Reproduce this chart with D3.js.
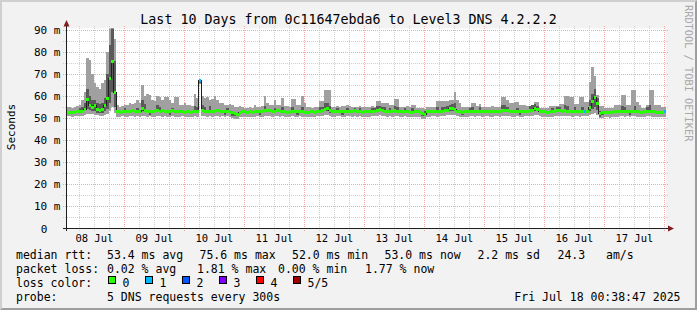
<!DOCTYPE html>
<html>
<head>
<meta charset="utf-8">
<script src="https://cdn.jsdelivr.net/npm/d3@7"></script>
<style>
body { margin: 0; background: #f2f2f2; }
text { font-family: "DejaVu Sans Mono", monospace; fill: #000; white-space: pre; }
</style>
</head>
<body>
<div id="chart"></div>
<script>
// time range: last 10 days, one smoke column per hour
var endTime = Date.UTC(2025, 6, 18, 0, 38, 47)
var startTime = endTime - 10 * 24 * 3600e3

var dayLabels = ["08 Jul", "09 Jul", "10 Jul", "11 Jul", "12 Jul", "13 Jul", "14 Jul", "15 Jul", "16 Jul", "17 Jul"]
var yTicks = [0, 10, 20, 30, 40, 50, 60, 70, 80, 90]

// hourly ping values in ms (sorted pings: 1 = fastest, 5 = slowest)
var ping1 = [
  51, 51, 50.5, 51, 51, 51, 51, 51.5, 52, 52, 52, 51.5, 51.5, 51, 51, 51.5, 52, 53, 55, 52.5, 50.5, 50.5, 51, 50.5,
  50.5, 50.8, 51, 50.5, 50.8, 50.5, 51, 51, 50.5, 50.8, 50.5, 50.5, 51, 50.8, 50.5, 50.8, 50.5, 50.5, 50.8, 50.5, 50.5, 50.5, 50.8, 50.5,
  50.5, 50.3, 50.5, 50.8, 50.5, 65.5, 51, 50.8, 50.5, 50.8, 50.5, 50.8, 50.8, 50.5, 50.8, 50.5, 50.8, 50.3, 50, 49.5, 49.5, 50.3, 50.5, 50.5,
  50.3, 50.5, 50.3, 50.5, 50.8, 50.5, 50.5, 51, 51, 50.8, 50.5, 50.8, 50.8, 50.5, 50.8, 50.5, 50.3, 50.5, 50.8, 50.5, 50.5, 50.8, 50.5, 50.3,
  50.3, 50.5, 50.5, 50.3, 50.8, 50.8, 51, 51.5, 51.5, 51, 50.5, 50.5, 50.8, 50.8, 50.5, 50.5, 50.8, 50.8, 50.5, 51, 50.5, 50.8, 50.3, 50.5,
  50.5, 50.5, 50.8, 50.8, 51, 51.2, 51, 50.8, 50.5, 50.8, 50.5, 51, 50.8, 50.5, 50.5, 50.8, 50.5, 50.3, 50.3, 50.5, 50.5, 50.3, 49.5, 49.5,
  50.5, 50.5, 50.8, 50.8, 50.5, 50.8, 50.8, 51, 51.2, 51.5, 51.5, 51.5, 50.8, 50.5, 50.3, 50.5, 50.5, 50.8, 50.8, 50.5, 50.8, 50.8, 50.5, 50.8,
  50.8, 50.5, 50.5, 50.8, 50.8, 50.5, 51, 51, 51, 50.8, 50.5, 50.5, 50.8, 50.5, 50.5, 50.8, 50.8, 51, 51, 51.5, 51.5, 50.8, 50.5, 50.5,
  50.3, 50.5, 50.5, 50.8, 51, 51, 50.8, 51, 50.8, 50.8, 50.5, 50.8, 50.8, 50.5, 50.8, 50.8, 50.8, 51.5, 52, 52.5, 51.5, 49.8, 49.8, 50.3,
  50.3, 50, 50.3, 50.5, 50.5, 50.8, 50.8, 50.5, 50.8, 50.5, 50.8, 50.8, 50.5, 50.3, 50.3, 50.5, 50.8, 50.8, 50.5, 50.5, 50.3, 50.3, 50.3, 50.5
]
var ping2 = [
  51.8, 51.8, 51.7, 51.9, 52.2, 52.3, 52.3, 53, 54, 53.5, 53, 53, 52.5, 52.5, 52.5, 53, 54, 57, 62, 55, 52.2, 51.9, 52.2, 52.2,
  52.4, 52.2, 52.6, 52.4, 52.2, 52.4, 53, 52.9, 52.4, 51.5, 52.4, 52.2, 52.9, 52.4, 52.6, 52.4, 52.2, 51.5, 52.6, 52.2, 52.4, 52.2, 52.2, 51.9,
  52.2, 51.9, 52.2, 52.4, 52.2, 66, 52.9, 52.4, 52.2, 52.4, 52.2, 52.4, 52.6, 52.2, 52.4, 51.5, 52.4, 51.9, 51, 51, 51, 51.9, 52.2, 52.2,
  51.9, 52.2, 51.9, 52.2, 52.4, 51.5, 52.2, 52.9, 52.9, 52.6, 52.2, 52.4, 52.6, 52.2, 52.4, 52.2, 51.9, 52.2, 52.4, 52.2, 51.5, 52.4, 52.2, 51.9,
  51.9, 52.2, 52.2, 51.9, 52.4, 52.4, 52.6, 53, 53, 52.5, 52.2, 52.2, 52.4, 52.4, 51.5, 52.2, 52.4, 52.4, 52.2, 52.6, 52.2, 52.4, 51.9, 52.2,
  52.2, 52.2, 52.4, 52.4, 52.9, 53.2, 52.9, 52.4, 52.2, 52.4, 52.2, 52.6, 52.4, 52.2, 52.2, 52.4, 52.2, 51.9, 51.9, 52.2, 52.2, 51.9, 51, 50.8,
  52.2, 52.2, 52.4, 52.4, 52.2, 52.4, 52.4, 52.6, 52.9, 53, 53.2, 53, 52.4, 52.2, 51.5, 52.2, 52.2, 52.4, 52.4, 52.2, 52.4, 52.4, 52.2, 52.4,
  52.4, 52.2, 52.2, 52.4, 52.4, 52.2, 52.9, 52.9, 52.6, 52.4, 52.2, 52.2, 52.4, 51.5, 52.2, 52.4, 52.4, 52.6, 52.9, 53, 53, 52.4, 52.2, 52.2,
  51.9, 52.2, 52.2, 52.4, 52.6, 52.6, 52.4, 52.6, 52.4, 52.4, 52.2, 52.4, 52.4, 52.2, 52.4, 52.4, 52.4, 53, 54, 55, 53.5, 50.5, 51.3, 51.9,
  51.9, 51.7, 51.9, 52.2, 52.2, 52.4, 52.4, 52.2, 52.4, 51.5, 52.4, 52.4, 52.2, 51.9, 51.9, 52.2, 52.4, 52.4, 52.2, 52.2, 51.9, 51.9, 51.9, 52.2
]
var median = [
  52.5, 52.5, 52.3, 52.5, 52.8, 53, 53, 54, 58.5, 55.5, 55, 55.5, 54, 53.5, 54, 55.5, 59, 68, 75.5, 61.5, 52.8, 52.5, 52.8, 52.8,
  53, 52.8, 53.2, 53, 52.8, 53, 54.5, 53.5, 53, 52.8, 53, 52.8, 53.5, 53, 53.2, 53, 52.8, 53, 53.2, 52.8, 53, 52.8, 52.8, 52.5,
  52.8, 52.5, 52.8, 53, 52.8, 66.8, 53.5, 53, 52.8, 53, 52.8, 53, 53.2, 52.8, 53, 52.8, 53, 52.5, 52.5, 52, 51.8, 52.5, 52.8, 52.8,
  52.5, 52.8, 52.5, 52.8, 53, 52.8, 52.8, 53.5, 53.5, 53.2, 52.8, 53, 53.2, 52.8, 53, 52.8, 52.5, 52.8, 53, 52.8, 52.8, 53, 52.8, 52.5,
  52.5, 52.8, 52.8, 52.5, 53, 53, 53.2, 54, 54.3, 53.5, 52.8, 52.8, 53, 53, 52.8, 52.8, 53, 53, 52.8, 53.2, 52.8, 53, 52.5, 52.8,
  52.8, 52.8, 53, 53, 53.5, 53.8, 53.5, 53, 52.8, 53, 52.8, 53.2, 53, 52.8, 52.8, 53, 52.8, 52.5, 52.5, 52.8, 52.8, 52.5, 52, 51.8,
  52.8, 52.8, 53, 53, 52.8, 53, 53, 53.2, 53.5, 54.3, 54.5, 54, 53, 52.8, 52.5, 52.8, 52.8, 53, 53, 52.8, 53, 53, 52.8, 53,
  53, 52.8, 52.8, 53, 53, 52.8, 53.5, 53.5, 53.2, 53, 52.8, 52.8, 53, 52.8, 52.8, 53, 53, 53.2, 53.5, 54.3, 54, 53, 52.8, 52.8,
  52.5, 52.8, 52.8, 53, 53.2, 53.2, 53, 53.2, 53, 53, 52.8, 53, 53, 52.8, 53, 53, 53, 55, 57.3, 59.3, 56.6, 52, 52.3, 52.5,
  52.5, 52.3, 52.5, 52.8, 52.8, 53, 53, 52.8, 53, 52.8, 53, 53, 52.8, 52.5, 52.5, 52.8, 53, 53, 52.8, 52.8, 52.5, 52.5, 52.5, 52.8
]
var ping4 = [
  53.2, 53.2, 53, 53.2, 53.5, 54.5, 55, 57, 63, 60, 58, 58, 57, 56.5, 57, 59, 70, 83, 91, 76, 53.5, 53.2, 53.5, 54.5,
  53.6, 53.4, 53.8, 53.6, 54.5, 53.6, 58, 56.5, 53.6, 53.4, 53.6, 53.4, 56, 55, 53.8, 53.6, 53.4, 53.6, 54.5, 53.4, 53.6, 53.4, 53.4, 53.1,
  53.4, 53.1, 53.4, 55.5, 55, 67.5, 56, 55, 53.4, 55.5, 53.4, 53.6, 53.8, 53.4, 53.6, 53.4, 54.5, 53.1, 53.1, 52.6, 52.4, 53.1, 53.4, 53.4,
  53.1, 53.4, 53.1, 53.4, 53.6, 53.4, 53.4, 55.5, 54.1, 53.8, 53.4, 54.5, 53.8, 53.4, 55, 53.4, 53.1, 53.4, 55, 53.4, 53.4, 53.6, 55, 53.1,
  53.1, 53.4, 53.4, 53.1, 53.6, 55, 55, 57, 57, 55.5, 53.4, 53.4, 54.5, 53.6, 53.4, 53.4, 54.5, 53.6, 53.4, 54.5, 53.4, 54.5, 53.1, 53.4,
  53.4, 53.4, 54.5, 54.5, 55.5, 55.5, 55, 55, 53.4, 54.5, 53.4, 55.5, 55, 53.4, 53.4, 54.5, 53.4, 53.1, 54.5, 53.4, 53.4, 53.1, 52.6, 53.2,
  53.4, 53.4, 53.6, 53.6, 55, 53.6, 55, 55, 55.5, 56, 56.5, 57, 53.6, 53.4, 53.1, 53.4, 53.4, 54.5, 55, 53.4, 53.6, 55, 53.4, 53.6,
  53.6, 53.4, 53.4, 53.6, 53.6, 53.4, 56, 56, 55, 53.6, 53.4, 53.4, 54.5, 53.4, 53.4, 53.6, 53.6, 55.5, 56, 56.5, 55.5, 53.6, 53.4, 53.4,
  53.1, 53.4, 54.5, 53.6, 55, 55, 53.6, 56, 55.5, 53.6, 53.4, 55, 53.6, 53.4, 55, 53.6, 53.6, 58, 61, 63, 59, 53, 53, 53.1,
  53.1, 52.9, 53.1, 53.4, 53.4, 53.6, 55.5, 55, 53.6, 53.4, 53.6, 55.5, 53.4, 53.1, 53.1, 53.4, 55, 56, 53.4, 53.4, 53.1, 53.1, 53.1, 53.4
]
var ping5 = [
  55, 55, 54.5, 55, 55.5, 56, 58, 62, 77, 76.5, 70, 66, 64, 63, 66, 67, 80, 95, 95, 86, 56, 55, 55.5, 56,
  56, 57, 56.5, 57, 58, 57, 65, 60, 61, 60.5, 58, 57.5, 60, 59.5, 58, 59.5, 59.5, 58, 57, 59.5, 59.5, 56, 56, 57,
  56, 56, 55.5, 61, 59, 67.5, 60, 59, 59.5, 58, 58.5, 60, 58, 57, 56.8, 56, 56, 56.5, 56, 55, 55, 55.5, 55, 54.5,
  54.5, 55, 54.5, 56, 55, 55, 55.5, 60, 57, 56, 56, 58, 56, 56, 59, 55.5, 55.5, 55, 58.5, 58.5, 56, 56, 60, 57,
  55, 55, 54.5, 55, 55, 57.5, 57.5, 62.5, 62.5, 62.5, 55, 55, 55.5, 55, 55.5, 55.5, 56, 55.5, 55, 55, 55, 55.5, 55, 55,
  55, 55, 55.5, 55, 57.8, 57.8, 57, 57, 57, 56, 56, 58.5, 58.5, 55, 55, 55, 55.5, 55, 56, 56, 54.5, 54.5, 54.5, 54,
  55, 55, 55, 55, 57.5, 57.5, 57.5, 57.5, 57.5, 58, 58, 61.8, 58, 57, 55, 55, 55, 55, 57, 57, 55.5, 56.5, 55, 55,
  55, 55, 55.5, 55, 55, 55, 59.6, 59.6, 58, 57, 57, 57.3, 57.3, 55.8, 55.8, 55.8, 55.5, 55.5, 55.5, 57.3, 57.3, 54.5, 54.5, 54.5,
  54.5, 55.5, 55.5, 55.5, 55.5, 56.5, 56.5, 59.9, 59.9, 59.5, 59.5, 56.5, 56.5, 59.5, 59.5, 57.3, 57.3, 66.3, 73.1, 68.9, 60.5, 55.5, 55.5, 54.5,
  54.5, 54.5, 54.5, 55.8, 55.8, 55.8, 60.3, 60.3, 55.8, 55.8, 62.6, 62.6, 57.3, 55.8, 54.5, 54.5, 55.8, 62.6, 62.6, 56, 56, 56, 55, 55
]
// hours with lost pings and how many of 5 were lost
var lossHours = [53, 207, 239]
var lossCounts = [1, 1, 1]

var lossLabels = ["0", "1", "2", "3", "4", "5/5"]
var lossColors = ["#26ff00", "#00b8ff", "#0059ff", "#7e00ff", "#ff0000", "#a10000"]

var W = 697, H = 310
var svg = d3.select("#chart").append("svg")
    .attr("width", W)
    .attr("height", H)

// frame
svg.append("rect").attr("width", W).attr("height", H).attr("fill", "#f2f2f2")
svg.append("path").attr("d", "M0,0H697L695,2H2V308L0,310Z").attr("fill", "#cfcfcf")
svg.append("path").attr("d", "M697,0V310H0L2,308H695V2Z").attr("fill", "#9e9e9e")

var x = d3.scaleUtc().domain([startTime, endTime]).range([66, 666])
var y = d3.scaleLinear().domain([0, 90.54]).range([228.5, 28.5])

svg.append("rect")
    .attr("x", 66).attr("y", 28.5)
    .attr("width", 600).attr("height", 200)
    .attr("fill", "#fff")

// grid
var grid = svg.append("g").attr("stroke-dasharray", "1,1").attr("shape-rendering", "crispEdges")
var minorY = d3.range(5, 91, 5).filter(function(v){ return v % 10 != 0 })
grid.selectAll(".gy").data(minorY).enter().append("line")
    .attr("x1", 63).attr("x2", 669)
    .attr("y1", function(d){ return Math.round(y(d)) + 0.5 })
    .attr("y2", function(d){ return Math.round(y(d)) + 0.5 })
    .attr("stroke", "#d0d0d0")
var sixHours = d3.utcHour.every(6).range(new Date(startTime), new Date(endTime)).filter(function(d){ return d.getUTCHours() != 0 })
grid.selectAll(".gx").data(sixHours).enter().append("line")
    .attr("x1", function(d){ return Math.round(x(d)) + 0.5 })
    .attr("x2", function(d){ return Math.round(x(d)) + 0.5 })
    .attr("y1", 26).attr("y2", 231)
    .attr("stroke", "#d0d0d0")
grid.selectAll(".my").data(yTicks.slice(1)).enter().append("line")
    .attr("x1", 63).attr("x2", 669)
    .attr("y1", function(d){ return Math.round(y(d)) + 0.5 })
    .attr("y2", function(d){ return Math.round(y(d)) + 0.5 })
    .attr("stroke", "#f4a6a6")
var days = d3.utcDay.range(new Date(startTime), new Date(endTime))
grid.selectAll(".mx").data(days).enter().append("line")
    .attr("x1", function(d){ return Math.round(x(d)) + 0.5 })
    .attr("x2", function(d){ return Math.round(x(d)) + 0.5 })
    .attr("y1", 26).attr("y2", 231)
    .attr("stroke", "#f4a6a6")

// smoke + median
svg.append("clipPath").attr("id", "plotclip").append("rect")
    .attr("x", 66).attr("y", 28.5).attr("width", 600).attr("height", 200)
var plot = svg.append("g").attr("clip-path", "url(#plotclip)").attr("shape-rendering", "crispEdges")

var hours = d3.range(ping1.length)
function hx(h){ return x(startTime + h * 3600e3) }

plot.selectAll(".outer").data(hours).enter().append("rect")
    .attr("x", function(h){ return hx(h) })
    .attr("width", function(h){ return hx(h + 1) - hx(h) })
    .attr("y", function(h){ return y(ping5[h]) })
    .attr("height", function(h){ return y(ping1[h]) - y(ping5[h]) })
    .attr("fill", "#a0a0a0")
plot.selectAll(".inner").data(hours).enter().append("rect")
    .attr("x", function(h){ return hx(h) })
    .attr("width", function(h){ return hx(h + 1) - hx(h) })
    .attr("y", function(h){ return y(ping4[h]) })
    .attr("height", function(h){ return y(ping2[h]) - y(ping4[h]) })
    .attr("fill", "#5a5a5a")

var medLine = d3.line()
    .x(function(d){ return hx(d) })
    .y(function(d){ return y(median[Math.min(d, median.length - 1)]) })
    .curve(d3.curveStepAfter)
plot.append("path")
    .attr("d", medLine(d3.range(median.length + 1)))
    .attr("fill", "none")
    .attr("stroke", "#202020")
    .attr("stroke-width", 1)

function lossOf(h){
    var i = lossHours.indexOf(h)
    return i < 0 ? 0 : lossCounts[i]
}
plot.selectAll(".med").data(hours).enter().append("rect")
    .attr("x", function(h){ return hx(h) })
    .attr("width", function(h){ return hx(h + 1) - hx(h) })
    .attr("y", function(h){ return y(median[h]) - 1.5 })
    .attr("height", 3)
    .attr("fill", function(h){ return lossColors[lossOf(h)] })

// axes
svg.append("line").attr("x1", 63).attr("x2", 669).attr("y1", 228.5).attr("y2", 228.5).attr("stroke", "#1f1f1f")
svg.append("line").attr("x1", 66.5).attr("x2", 66.5).attr("y1", 231).attr("y2", 26).attr("stroke", "#1f1f1f")
svg.append("path").attr("d", "M66.5,20L63.5,26.5H69.5Z").attr("fill", "#801f1f")
svg.append("path").attr("d", "M674,228.5L668,225.5V231.5Z").attr("fill", "#801f1f")

svg.selectAll(".ylab").data(yTicks).enter().append("text")
    .attr("x", 60.5)
    .attr("y", function(d){ return y(d) + 4 })
    .attr("text-anchor", "end")
    .style("font-size", "11px")
    .text(function(d){ return d == 0 ? "0  " : d + " m" })

var noons = days.map(function(d){ return d3.utcHour.offset(d, 12) })
noons.unshift(new Date(Date.UTC(2025, 6, 8, 12)))
svg.selectAll(".xlab").data(dayLabels).enter().append("text")
    .attr("x", function(d, i){ return x(noons[i]) })
    .attr("y", 241.5)
    .attr("text-anchor", "middle")
    .style("font-size", "10.5px")
    .text(function(d){ return d })

// titles
svg.append("text").attr("x", 348.5).attr("y", 23.5).attr("text-anchor", "middle")
    .style("font-size", "13.3px")
    .text("Last 10 Days from 0c11647ebda6 to Level3 DNS 4.2.2.2")
svg.append("text").attr("transform", "translate(14.5,127) rotate(-90)").attr("text-anchor", "middle")
    .style("font-size", "11px")
    .text("Seconds")
svg.append("text").attr("transform", "translate(685,5) rotate(90)")
    .style("font-size", "10.3px").style("fill", "#a8a8a8")
    .text("RRDTOOL / TOBI OETIKER")

// legend
var legend = svg.append("g").style("font-size", "11.5px")
var rows = [
  [[16, "median rtt:"], [107, "53.4 ms avg"], [199.5, "75.6 ms max"], [292, "52.0 ms min"], [384.5, "53.0 ms now"], [477.5, "2.2 ms sd"], [557.5, "24.3"], [606, "am/s"]],
  [[16, "packet loss:"], [107, "0.02 % avg"], [197, "1.81 % max"], [278, "0.00 % min"], [365, "1.77 % now"]],
  [[16, "loss color:"]],
  [[16, "probe:"], [107, "5 DNS requests every 300s"]]
]
rows.forEach(function(r, i){
  r.forEach(function(s){
    legend.append("text").attr("x", s[0]).attr("y", 258.5 + i * 14).text(s[1])
  })
})
lossLabels.forEach(function(l, i){
  var bx = 108.5 + i * 37
  legend.append("rect").attr("x", bx).attr("y", 276.5).attr("width", 7).attr("height", 7)
      .attr("fill", lossColors[i]).attr("stroke", "#000").attr("stroke-width", 1)
  legend.append("text").attr("x", bx + 14).attr("y", 286.5).text(l)
})
legend.append("text").attr("x", 680.5).attr("y", 300.5).attr("text-anchor", "end")
    .text("Fri Jul 18 00:38:47 2025")
</script>
</body>
</html>
